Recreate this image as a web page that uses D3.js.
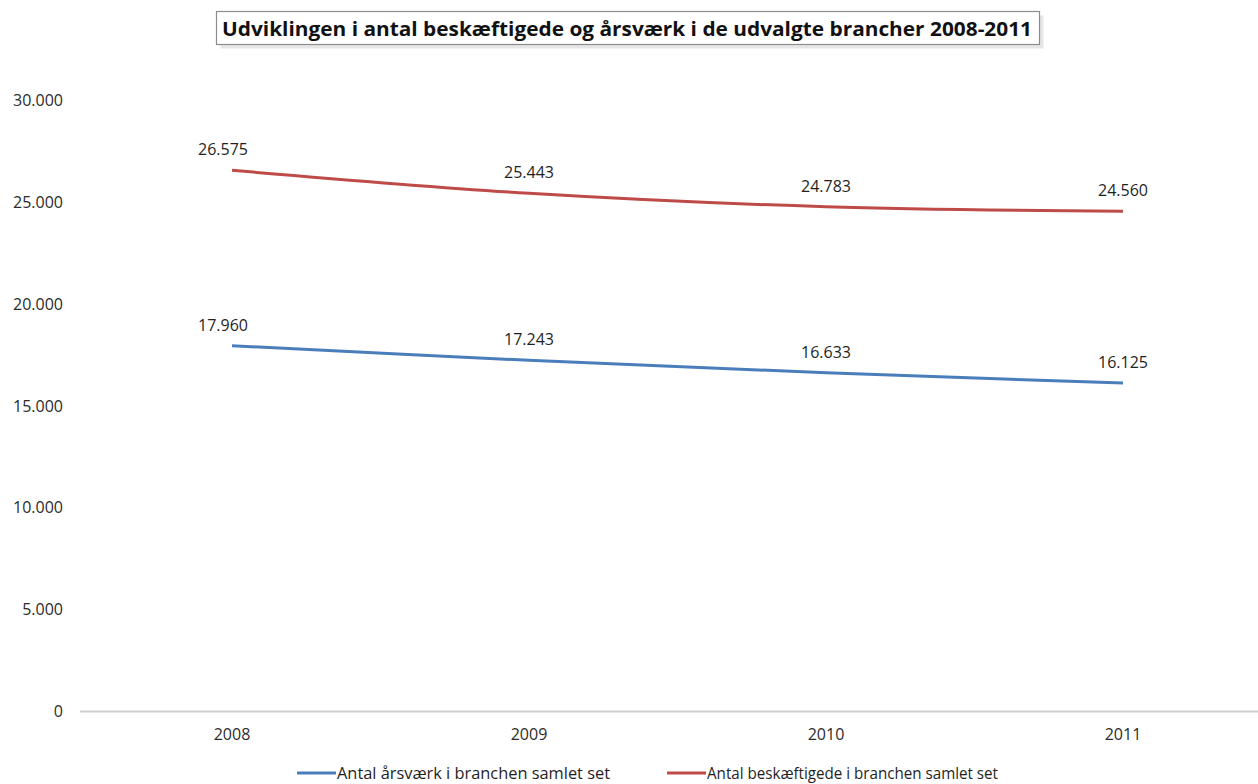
<!DOCTYPE html>
<html>
<head>
<meta charset="utf-8">
<script src="https://cdn.jsdelivr.net/npm/d3@7"></script>
<style>
  html, body { margin: 0; padding: 0; background: #fff; }
  svg { display: block; font-family: "Open Sans", "Noto Sans", sans-serif; }
</style>
</head>
<body>
<svg id="chart" width="1258" height="784"></svg>
<script>
// Kategorier og serier
const years = ["2008", "2009", "2010", "2011"];
const aarsvaerk = [17960, 17243, 16633, 16125];
const beskaeftigede = [26575, 25443, 24783, 24560];
const yTicks = [0, 5000, 10000, 15000, 20000, 25000, 30000];
const seriesNames = ["Antal årsværk i branchen samlet set", "Antal beskæftigede i branchen samlet set"];
const seriesColors = ["#4a7ebb", "#be4b48"];
const titleText = "Udviklingen i antal beskæftigede og årsværk i de udvalgte brancher 2008-2011";

const da = d3.formatLocale({ decimal: ",", thousands: ".", grouping: [3], currency: ["", " kr."] });
const fmt = da.format(",d");

const svg = d3.select("#chart");

const x = d3.scaleBand().domain(years).range([83.5, 1271.5]);
const y = d3.scaleLinear().domain([0, 30000]).range([711.5, 100.5]);

// Titel med ramme
const tg = svg.append("g");
tg.append("rect")
  .attr("x", 218.5).attr("y", 13.5).attr("width", 823).attr("height", 33)
  .attr("fill", "#e6e6e6").attr("transform", "translate(2,2)");
tg.append("rect")
  .attr("x", 216.5).attr("y", 11.5).attr("width", 823).attr("height", 33)
  .attr("fill", "#fff").attr("stroke", "#8c8c8c").attr("stroke-width", 1.2);
tg.append("text")
  .attr("x", 627).attr("y", 36)
  .attr("text-anchor", "middle")
  .attr("font-size", 20).attr("font-weight", "bold").attr("fill", "#111")
  .attr("textLength", 810).attr("lengthAdjust", "spacingAndGlyphs")
  .text(titleText);

// Y-akse (kun etiketter)
svg.append("g")
  .attr("transform", "translate(63,0)")
  .call(d3.axisLeft(y).tickValues(yTicks).tickFormat(fmt).tickSize(0).tickPadding(0))
  .call(g => g.select(".domain").remove())
  .call(g => g.selectAll("text").attr("font-size", 16).attr("fill", "#2b2b2b").attr("font-family", "'Open Sans', sans-serif"));

// X-akse
svg.append("g")
  .attr("transform", `translate(0,${y(0)})`)
  .call(d3.axisBottom(x).tickSize(0).tickPadding(17))
  .call(g => g.select(".domain").attr("stroke", "#d0d0d0").attr("stroke-width", 2).attr("d", "M80,0H1258"))
  .call(g => g.selectAll("text").attr("font-size", 16).attr("fill", "#2b2b2b").attr("font-family", "'Open Sans', sans-serif"));

const line = d3.line()
  .x((d, i) => x(years[i]) + x.bandwidth() / 2)
  .y(d => y(d))
  .curve(d3.curveCatmullRom.alpha(0.5));

[aarsvaerk, beskaeftigede].forEach((vals, si) => {
  svg.append("path")
    .datum(vals)
    .attr("fill", "none")
    .attr("stroke", seriesColors[si])
    .attr("stroke-width", 3)
    .attr("d", line);

  svg.append("g").selectAll("text")
    .data(vals)
    .join("text")
    .attr("x", (d, i) => x(years[i]) + x.bandwidth() / 2 - (i === 0 ? 9 : 0))
    .attr("y", d => y(d) - 15)
    .attr("text-anchor", "middle")
    .attr("font-size", 16).attr("fill", "#1f1f1f")
    .text(d => fmt(d));
});

// Forklaring
const legendItems = [{ x: 297, tx: 337, w: 273 }, { x: 667, tx: 707, w: 291 }];
legendItems.forEach((it, i) => {
  svg.append("line")
    .attr("x1", it.x).attr("x2", it.x + 39)
    .attr("y1", 773).attr("y2", 773)
    .attr("stroke", seriesColors[i]).attr("stroke-width", 3);
  svg.append("text")
    .attr("x", it.tx).attr("y", 779)
    .attr("font-size", 16).attr("fill", "#1f1f1f")
    .attr("textLength", it.w).attr("lengthAdjust", "spacingAndGlyphs")
    .text(seriesNames[i]);
});
</script>
</body>
</html>
